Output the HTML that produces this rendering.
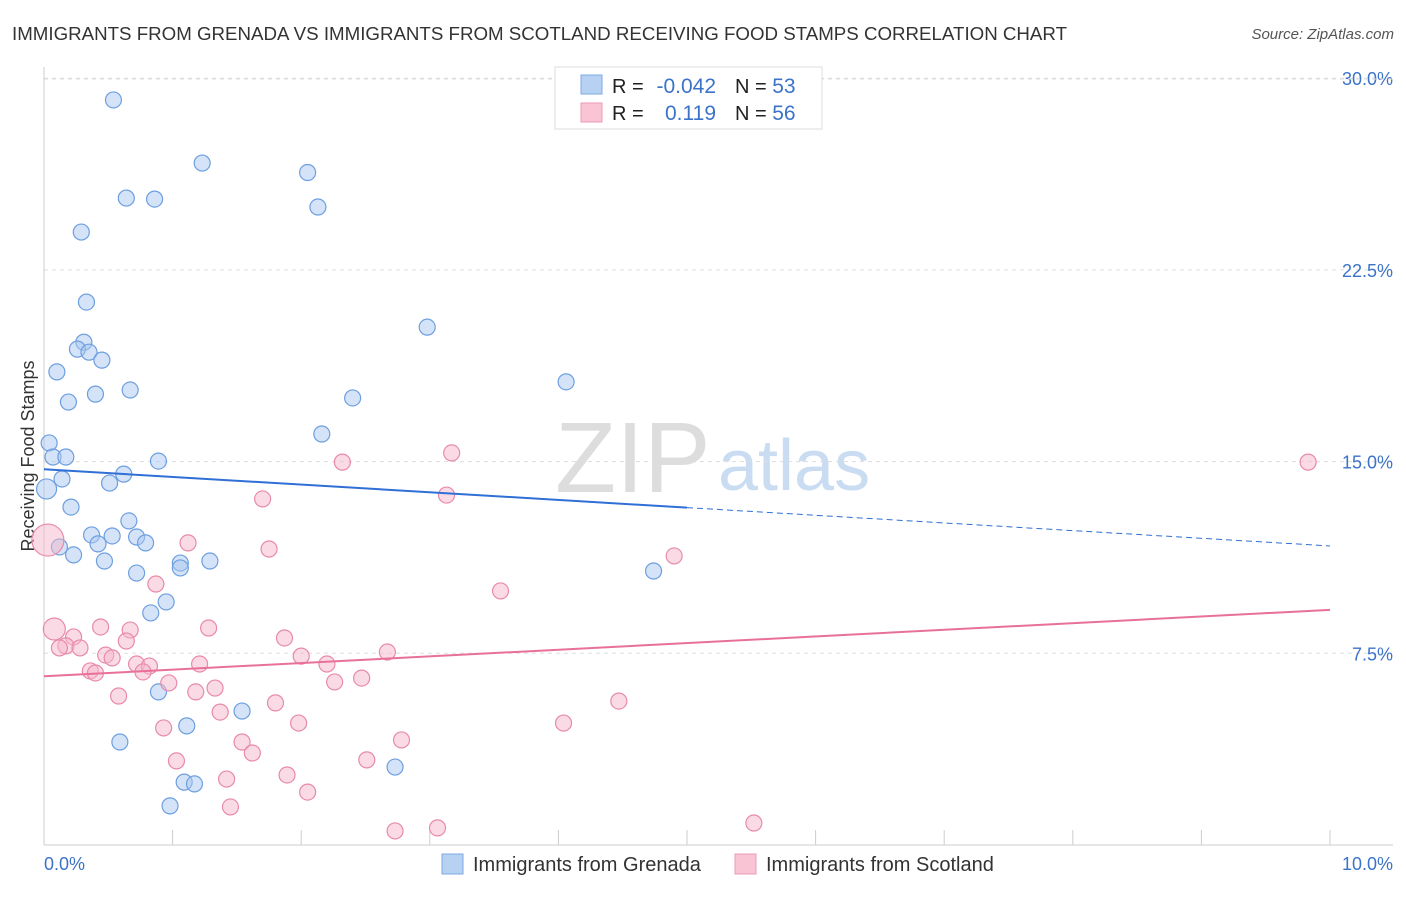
<!DOCTYPE html>
<html><head><meta charset="utf-8">
<style>
body{margin:0;background:#fff;font-family:"Liberation Sans",sans-serif;}
svg text{font-family:"Liberation Sans",sans-serif;}
</style></head>
<body>
<svg id="chart" width="1406" height="892">
<text x="12" y="40" font-size="18" fill="#333" textLength="1055" lengthAdjust="spacingAndGlyphs">IMMIGRANTS FROM GRENADA VS IMMIGRANTS FROM SCOTLAND RECEIVING FOOD STAMPS CORRELATION CHART</text>
<text x="1394" y="39" font-size="15" fill="#555" text-anchor="end" font-style="italic">Source: ZipAtlas.com</text>
<text x="555" y="492" font-size="100" fill="#ddd" font-family="Liberation Serif">ZIP</text>
<text x="718" y="490" font-size="72" fill="#c9dcf2">atlas</text>
<text transform="translate(34,456) rotate(-90)" font-size="18" fill="#333" text-anchor="middle">Receiving Food Stamps</text>
<g id="grid"></g><g id="marks"></g>
<g>
<rect x="555" y="67" width="267" height="62" fill="#fff" stroke="#ddd"/>
<rect x="581" y="75" width="21" height="19" fill="#b7d1f3" stroke="#7eaae6"/>
<rect x="581" y="103" width="21" height="19" fill="#f9c5d4" stroke="#eb9ab4"/>
<text x="612" y="93" font-size="20" fill="#222">R = </text>
<text x="716" y="93" font-size="21" fill="#3b73c9" text-anchor="end">-0.042</text>
<text x="735" y="93" font-size="20" fill="#222">N = <tspan fill="#3b73c9" font-size="21">53</tspan></text>
<text x="612" y="120" font-size="20" fill="#222">R = </text>
<text x="716" y="120" font-size="21" fill="#3b73c9" text-anchor="end">0.119</text>
<text x="735" y="120" font-size="20" fill="#222">N = <tspan fill="#3b73c9" font-size="21">56</tspan></text>
</g>
<g>
<rect x="442" y="854" width="21" height="20" fill="#b7d1f3" stroke="#7eaae6"/>
<text x="473" y="871" font-size="20" fill="#333">Immigrants from Grenada</text>
<rect x="735" y="854" width="21" height="20" fill="#f9c5d4" stroke="#eb9ab4"/>
<text x="766" y="871" font-size="20" fill="#333">Immigrants from Scotland</text>
</g>
</svg>
<script>
const yTicks=[7.5,15,22.5,30];
const yTickLabels=["7.5%","15.0%","22.5%","30.0%"];
const xTickLabels=["0.0%","10.0%"];
const blueX=[0.54,1.23,2.05,0.64,0.86,2.13,0.29,0.33,2.98,0.31,0.26,0.35,0.45,0.10,4.06,0.67,0.40,0.19,2.40,2.16,0.04,0.07,0.17,0.89,0.14,0.62,0.51,0.02,0.21,0.66,0.37,0.53,0.72,0.79,0.42,0.12,0.23,0.47,1.06,1.29,1.06,0.72,4.74,0.95,0.83,0.89,1.54,1.11,0.59,2.73,1.09,1.17,0.98];
const blueY=[29.15,26.68,26.31,25.31,25.27,24.96,23.98,21.24,20.26,19.67,19.40,19.28,18.97,18.51,18.12,17.80,17.64,17.33,17.49,16.08,15.73,15.18,15.18,15.02,14.32,14.51,14.16,13.93,13.22,12.68,12.13,12.09,12.05,11.82,11.78,11.66,11.35,11.11,11.03,11.11,10.84,10.64,10.72,9.51,9.08,5.99,5.24,4.66,4.03,3.05,2.46,2.39,1.53];
const pinkX=[9.83,3.17,2.32,3.13,1.70,1.12,1.75,4.90,0.87,3.55,0.08,0.44,1.28,0.67,0.23,0.64,1.87,0.17,0.12,0.28,0.48,0.53,2.00,2.67,0.72,0.82,1.21,2.20,0.36,0.40,0.77,0.97,2.26,2.47,1.33,1.18,0.58,1.80,4.47,1.37,1.98,4.04,0.93,1.54,2.78,1.62,1.03,2.51,1.89,1.42,2.05,1.45,5.52,2.73,3.06,0.03];
const pinkY=[14.98,15.34,14.98,13.69,13.54,11.82,11.58,11.31,10.21,9.94,8.45,8.53,8.49,8.41,8.14,7.98,8.10,7.79,7.71,7.71,7.43,7.32,7.39,7.55,7.08,7.00,7.08,7.08,6.81,6.73,6.77,6.34,6.38,6.53,6.14,5.99,5.83,5.56,5.63,5.20,4.77,4.77,4.58,4.03,4.11,3.60,3.29,3.33,2.74,2.58,2.07,1.49,0.86,0.55,0.67,11.93];
const blueTrend=[14.7,11.7];
const pinkTrend=[6.6,9.2];
const NS="http://www.w3.org/2000/svg";
const X=v=>44+v*128.6, Y=v=>845-v*25.56;
const gridG=document.getElementById('grid'), marksG=document.getElementById('marks');
function mk(p,tag,a){const e=document.createElementNS(NS,tag);for(const k in a)e.setAttribute(k,a[k]);p.appendChild(e);return e;}
yTicks.forEach((t,i)=>{
 const l=mk(gridG,'line',{x1:44,x2:1393,y1:Y(t),y2:Y(t),stroke:'#ddd','stroke-dasharray':'4,4'});
 
 
 const tx=mk(gridG,'text',{x:1393,y:Y(t)+7,'font-size':18,fill:'#3b73c9','text-anchor':'end'});tx.textContent=yTickLabels[i];
 
 
});
mk(gridG,'line',{x1:44,x2:1393,y1:79,y2:79,stroke:'#ddd','stroke-dasharray':'4,4'});
mk(gridG,'line',{x1:44,x2:44,y1:67,y2:845,stroke:'#ccc'});
mk(gridG,'line',{x1:44,x2:1393,y1:845,y2:845,stroke:'#ccc'});
for(let i=0;i<=10;i++){const l=mk(gridG,'line',{x1:X(i),x2:X(i),y1:830,y2:845,stroke:'#ccc'});
 
 }
[[0,'start',44],[10,'end',1393]].forEach((d,i)=>{const t=mk(gridG,'text',{x:d[2],y:870,'font-size':18,fill:'#3b73c9','text-anchor':d[1]});t.textContent=xTickLabels[i];
 
 });
function dots(xs,ys,fill,stroke,name,big){xs.forEach((x,i)=>{const r=big[i]||8;const c=mk(marksG,'circle',{cx:X(x),cy:Y(ys[i]),r:r,fill:fill,'fill-opacity':0.5,stroke:stroke,'stroke-width':1.2});
 
 });}
dots(blueX,blueY,'#a9c8f0','#6d9fe0','grenada-point',{27:10});
dots(pinkX,pinkY,'#f5b8cb','#e88aa8','scotland-point',{55:16,10:11});
let ln=mk(marksG,'line',{x1:X(0),y1:Y(blueTrend[0]),x2:X(5),y2:Y(blueTrend[0]+(blueTrend[1]-blueTrend[0])*0.5),stroke:'#2f6fd6','stroke-width':2});


ln=mk(marksG,'line',{x1:X(5),y1:Y(blueTrend[0]+(blueTrend[1]-blueTrend[0])*0.5),x2:X(10),y2:Y(blueTrend[1]),stroke:'#2f6fd6','stroke-width':1,'stroke-dasharray':'6,4'});


ln=mk(marksG,'line',{x1:X(0),y1:Y(pinkTrend[0]),x2:X(10),y2:Y(pinkTrend[1]),stroke:'#e8709a','stroke-width':2});


</script>
</body></html>
